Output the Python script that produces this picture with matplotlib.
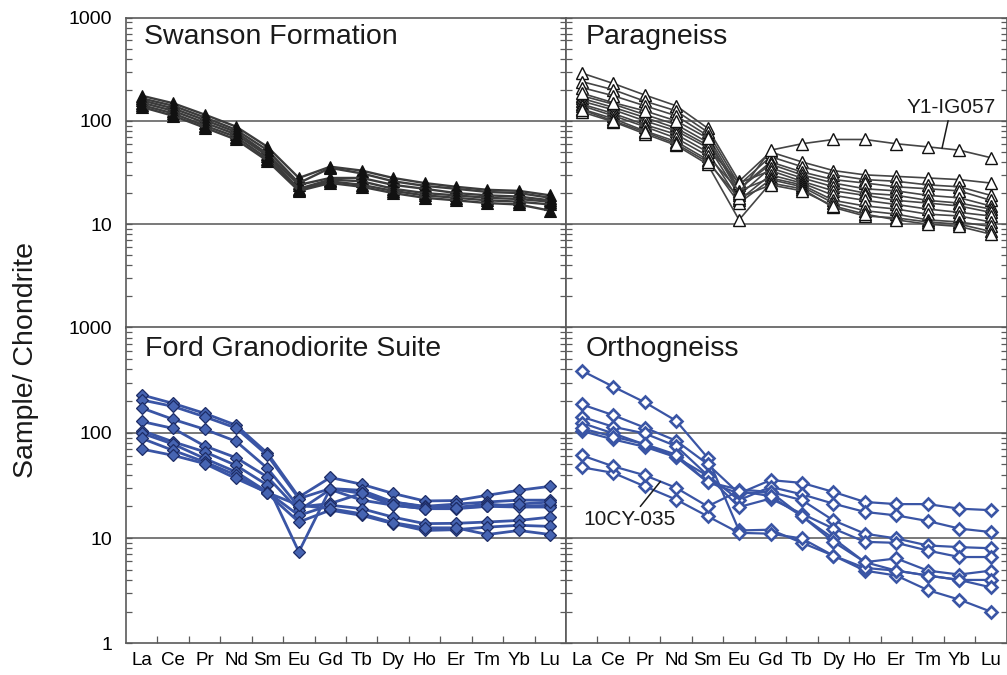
import numpy as np
import matplotlib
matplotlib.use("Agg")
import matplotlib.pyplot as plt
from matplotlib.ticker import LogLocator, NullFormatter, FixedLocator

plt.rcParams['font.family'] = ['Liberation Sans', 'DejaVu Sans']

elements = ["La", "Ce", "Pr", "Nd", "Sm", "Eu", "Gd", "Tb", "Dy", "Ho", "Er", "Tm", "Yb", "Lu"]

# Chondrite-normalised REE abundances
swanson = [
    [175, 148, 115, 88, 56, 28.0, 36.0, 33.0, 28.0, 25.0, 23.0, 21.5, 21.0, 19.0],
    [165, 140, 108, 82, 52, 25.0, 35.0, 31.0, 26.0, 23.5, 22.0, 20.5, 20.0, 18.0],
    [158, 132, 102, 78, 48, 24.0, 28.0, 28.0, 24.0, 22.0, 20.0, 19.0, 18.5, 17.0],
    [150, 125, 96, 74, 46, 22.0, 27.0, 26.0, 22.0, 20.0, 19.0, 18.0, 17.5, 16.5],
    [142, 118, 90, 70, 43, 21.5, 26.0, 24.0, 21.0, 19.0, 18.0, 17.0, 16.5, 15.5],
    [136, 112, 86, 66, 41, 21.0, 25.0, 23.0, 20.0, 18.0, 17.0, 16.0, 15.5, 13.5],
]

paragneiss = [
    [290, 230, 178, 140, 85, 26, 50, 40, 33, 30, 29, 28, 27, 25],
    [240, 200, 155, 125, 78, 24, 45, 36, 30, 27, 26, 24, 23, 19],
    [210, 175, 140, 112, 72, 22, 40, 32, 27, 25, 23, 22, 21, 17],
    [175, 145, 115, 92, 62, 22, 38, 30, 25, 22, 21, 19, 18, 15],
    [165, 135, 108, 85, 58, 19, 35, 28, 23, 20, 19, 17, 16, 14],
    [155, 128, 100, 80, 55, 25, 33, 26, 21, 19, 17, 16, 15, 13],
    [145, 118, 92, 74, 50, 17, 30, 25, 19, 17, 15.5, 14, 13, 12],
    [140, 112, 88, 68, 46, 21, 28, 24, 17, 15, 14, 12.5, 12, 10.5],
    [130, 105, 80, 63, 42, 16, 27, 23, 16, 13.5, 12.5, 11, 10.5, 9.5],
    [122, 98, 75, 58, 38, 11, 25, 22, 14.5, 12, 11.5, 10.5, 10, 8.5],
    [128, 100, 78, 60, 40, 18, 24, 21, 15, 12.5, 11, 10, 9.5, 8],
]
y1_ig057 = [185, 150, 125, 100, 68, 20, 52, 60, 66, 66, 60, 56, 52, 44]

ford = [
    [229, 190, 153, 118, 64, 24.5, 37.6, 32.4, 26.5, 22.5, 22.7, 25.5, 28.4, 31.0],
    [205, 178, 142, 111, 61, 23.7, 29.5, 28.4, 22.0, 20.0, 21.0, 22.0, 22.9, 22.9],
    [172, 134, 108, 83, 46, 19.7, 21.3, 26.5, 22.0, 19.7, 19.5, 21.0, 20.0, 20.5],
    [128, 110, 75, 58, 38, 18.3, 28.9, 22.9, 20.5, 19.0, 19.0, 20.0, 19.7, 19.7],
    [105, 82, 66, 49, 31.8, 7.4, 29.5, 26.5, 20.5, 19.0, 19.5, 20.0, 21.0, 22.0],
    [99, 78, 57, 42.5, 27.4, 16.4, 20.5, 19.0, 15.8, 13.7, 13.8, 14.2, 14.7, 15.8],
    [88.5, 68, 53, 39.6, 26.5, 14.2, 18.4, 16.4, 13.7, 11.8, 12.0, 12.7, 13.2, 12.9],
    [70, 61, 51, 36.8, 27.0, 20.5, 19.0, 17.0, 14.0, 12.5, 12.5, 10.8, 11.8, 10.8],
]

orthogneiss = [
    [389, 274, 195, 130, 58, 11.8, 12.0, 9.0, 6.8, 4.9, 4.4, 3.2, 2.6, 2.0],
    [186, 147, 112, 84, 50.4, 26.5, 35.5, 33.4, 27.4, 22.0, 21.0, 21.0, 19.0, 18.4],
    [142, 114, 98.6, 74.7, 39.5, 22.9, 30.6, 26.0, 21.2, 17.7, 16.4, 14.5, 12.3, 11.4],
    [124, 98.6, 77.5, 59, 34, 28.9, 27.4, 22.9, 14.7, 11.0, 9.9, 8.5, 8.2, 8.0],
    [104, 86.5, 73.6, 58.6, 39, 19.7, 23.7, 17.0, 12.3, 9.2, 9.0, 7.6, 6.6, 6.6],
    [110, 92, 78, 62, 34, 26.5, 27.4, 16.1, 9.9, 5.9, 6.4, 4.9, 4.5, 4.9],
    [47, 41.6, 31, 23.2, 16.1, 11.2, 11.0, 9.9, 6.8, 5.2, 4.9, 4.4, 4.0, 4.0],
]
cy035 = [61, 48, 39.5, 30, 20, 28, 25, 16.1, 9.2, 5.9, 4.9, 4.4, 4.0, 3.4]

x = np.arange(len(elements))
blue = "#3A55A5"
grid_c = "#6e6e6e"
spine_c = "#5a5a5a"

fig = plt.figure(figsize=(10.07, 6.75), dpi=100)
W, H = 1007.0, 675.0
x_left, x_mid, x_right = 126.0, 566.0, 1006.5
y_top, y_mid, y_bot = 17.5, 327.5, 643.3


def make_ax(x0, x1, y0, y1):
    return fig.add_axes([x0 / W, 1 - y1 / H, (x1 - x0) / W, (y1 - y0) / H])


ax_sw = make_ax(x_left, x_mid, y_top, y_mid)
ax_pg = make_ax(x_mid, x_right, y_top, y_mid)
ax_fg = make_ax(x_left, x_mid, y_mid, y_bot)
ax_og = make_ax(x_mid, x_right, y_mid, y_bot)

for ax in (ax_sw, ax_pg, ax_fg, ax_og):
    ax.set_yscale("log")
    ax.set_ylim(1, 1000)
    ax.set_xlim(-0.5, len(elements) - 0.5)
    for yv in (10, 100):
        ax.axhline(yv, color=grid_c, lw=1.3, zorder=1)
    for s in ax.spines.values():
        s.set_color(spine_c)
        s.set_linewidth(1.2)
    ax.yaxis.set_major_locator(LogLocator(base=10, numticks=10))
    ax.yaxis.set_minor_locator(LogLocator(base=10, subs=np.arange(2, 10), numticks=20))
    ax.yaxis.set_minor_formatter(NullFormatter())
    ax.tick_params(axis="y", which="both", direction="in", left=True, right=True,
                   length=4.5, width=0.9, color=spine_c, labelsize=14, pad=10)
    ax.set_xticks(x)
    ax.xaxis.set_minor_locator(FixedLocator(np.arange(0.5, len(elements) - 1, 1.0)))
    ax.tick_params(axis="x", which="major", length=0, labelsize=13.5, pad=6)
    ax.tick_params(axis="x", which="minor", direction="in", length=5, width=0.9,
                   color=spine_c, bottom=True, top=False)

for ax in (ax_sw, ax_pg):
    ax.tick_params(axis="x", which="both", labelbottom=False, bottom=False)
for ax in (ax_fg, ax_og):
    ax.set_xticklabels(elements)

for ax in (ax_pg, ax_og):
    ax.tick_params(axis="y", which="both", labelleft=False)

ax_sw.set_yticks([10, 100, 1000])
ax_sw.set_yticklabels(["10", "100", "1000"])
ax_fg.set_yticks([1, 10, 100, 1000])
ax_fg.set_yticklabels(["1", "10", "100", "1000"])

# Swanson Formation
for row in swanson:
    ax_sw.plot(x, row, color="#3c3c3c", lw=1.7, marker="^", ms=8.5,
               mfc="#111111", mec="#111111", mew=0.8, zorder=3)

# Paragneiss
for row in paragneiss + [y1_ig057]:
    ax_pg.plot(x, row, color="#454545", lw=1.2, marker="^", ms=9,
               mfc="white", mec="#111111", mew=1.0, zorder=3)

# Ford Granodiorite Suite
for row in ford:
    ax_fg.plot(x, row, color=blue, lw=2.0, marker="D", ms=6.5,
               mfc="#4664B2", mec="#1d2c66", mew=0.9, zorder=3)

# Orthogneiss
for row in orthogneiss + [cy035]:
    ax_og.plot(x, row, color=blue, lw=1.6, marker="D", ms=6.5,
               mfc="white", mec=blue, mew=1.9, zorder=3)

title_kw = dict(xycoords="axes fraction", textcoords="offset pixels",
                fontsize=20.5, ha="left", va="baseline", color="#1a1a1a")
ax_sw.annotate("Swanson Formation", xy=(0, 1), xytext=(18, -26), **title_kw)
ax_pg.annotate("Paragneiss", xy=(0, 1), xytext=(20, -26), **title_kw)
ax_fg.annotate("Ford Granodiorite Suite", xy=(0, 1), xytext=(19, -28), **title_kw)
ax_og.annotate("Orthogneiss", xy=(0, 1), xytext=(20, -28), **title_kw)

# Sample labels with leader lines
xa = 11.45
ya = y1_ig057[11] * (y1_ig057[12] / y1_ig057[11]) ** (xa - 11)
ax_pg.annotate("Y1-IG057", xy=(xa, ya), xytext=(11.74, 136), fontsize=15,
               ha="center", va="center", color="#1a1a1a",
               arrowprops=dict(arrowstyle="-", color="#1a1a1a", lw=1.1,
                               shrinkA=1, shrinkB=0))
xb = 2.5
yb = cy035[2] * (cy035[3] / cy035[2]) ** (xb - 2)
ax_og.annotate("10CY-035", xy=(xb, yb), xytext=(1.52, 14.9), fontsize=15,
               ha="center", va="center", color="#1a1a1a",
               arrowprops=dict(arrowstyle="-", color="#1a1a1a", lw=1.1,
                               shrinkA=1, shrinkB=0))

fig.text(26 / W, 1 - 360 / H, "Sample/ Chondrite", rotation=90, fontsize=20.5,
         ha="center", va="center", color="#1a1a1a")

fig.savefig("out.png", dpi=100)
